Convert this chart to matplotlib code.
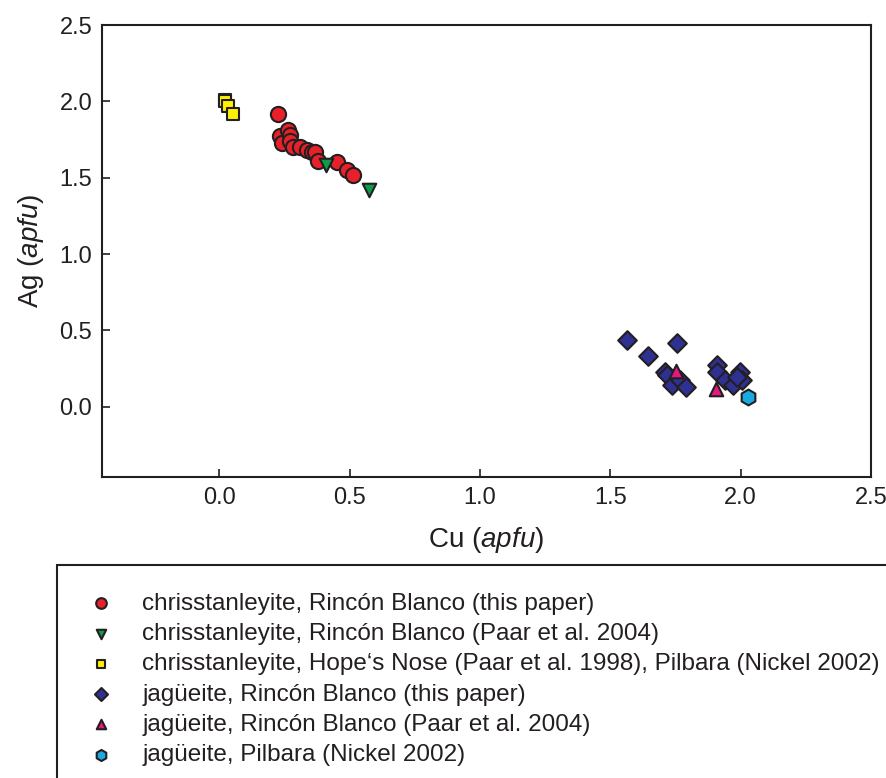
import matplotlib
matplotlib.use("Agg")
import matplotlib.pyplot as plt
from matplotlib.patches import Rectangle

plt.rcParams['font.family'] = ['Liberation Sans', 'DejaVu Sans']
plt.rcParams['mathtext.fontset'] = 'custom'
plt.rcParams['mathtext.rm'] = 'Liberation Sans'
plt.rcParams['mathtext.it'] = 'Liberation Sans:italic'

# Data
chr_rb_cu = [0.226, 0.233, 0.239, 0.265, 0.271, 0.271, 0.284, 0.31, 0.335, 0.355, 0.367, 0.38, 0.45, 0.489, 0.514]
chr_rb_ag = [1.92, 1.77, 1.73, 1.81, 1.78, 1.74, 1.70, 1.70, 1.68, 1.67, 1.67, 1.61, 1.60, 1.55, 1.52]

chr_paar_cu = [0.41, 0.576]
chr_paar_ag = [1.585, 1.42]

chr_hope_cu = [0.02, 0.022, 0.032, 0.052]
chr_hope_ag = [2.01, 2.00, 1.97, 1.92]

jag_rb_cu = [1.563, 1.646, 1.755, 1.71, 1.717, 1.736, 1.768, 1.791, 1.909, 1.909, 1.94, 1.972, 1.998, 2.005, 1.985]
jag_rb_ag = [0.435, 0.335, 0.415, 0.23, 0.208, 0.142, 0.175, 0.131, 0.273, 0.23, 0.175, 0.142, 0.23, 0.175, 0.197]

jag_paar_cu = [1.753, 1.906]
jag_paar_ag = [0.235, 0.118]

jag_pil_cu = [2.028]
jag_pil_ag = [0.062]

labels = [
    'chrisstanleyite, Rincón Blanco (this paper)',
    'chrisstanleyite, Rincón Blanco (Paar et al. 2004)',
    'chrisstanleyite, Hope‘s Nose (Paar et al. 1998), Pilbara (Nickel 2002)',
    'jagüeite, Rincón Blanco (this paper)',
    'jagüeite, Rincón Blanco (Paar et al. 2004)',
    'jagüeite, Pilbara (Nickel 2002)',
]

W, H = 886, 778
fig = plt.figure(figsize=(W/100, H/100), dpi=100)
ax = fig.add_axes([102/W, 1-477/H, (871-102)/W, (477-25)/H])

ew = 1.5
ec = '#231F20'
h1 = ax.scatter(chr_hope_cu, chr_hope_ag, marker='s', s=85, c='#FFF200', edgecolors=ec, linewidths=ew, zorder=3)
h2 = ax.scatter(chr_rb_cu, chr_rb_ag, marker='o', s=120, c='#E8202A', edgecolors=ec, linewidths=ew, zorder=3)
h3 = ax.scatter(chr_paar_cu, chr_paar_ag, marker='v', s=95, c='#0B9C4A', edgecolors=ec, linewidths=ew, zorder=4)
h4 = ax.scatter(jag_rb_cu, jag_rb_ag, marker='D', s=90, c='#2E3192', edgecolors=ec, linewidths=ew, zorder=3)
h5 = ax.scatter(jag_paar_cu, jag_paar_ag, marker='^', s=95, c='#E6177E', edgecolors=ec, linewidths=ew, zorder=4)
h6 = ax.scatter(jag_pil_cu, jag_pil_ag, marker='h', s=130, c='#1BA9E1', edgecolors=ec, linewidths=ew, zorder=4)

ax.set_xlim(-0.45, 2.5)
ax.set_ylim(-0.46, 2.5)
ax.set_xticks([0.0, 0.5, 1.0, 1.5, 2.0, 2.5])
ax.set_yticks([0.0, 0.5, 1.0, 1.5, 2.0, 2.5])
ax.xaxis.set_major_formatter(matplotlib.ticker.FormatStrFormatter('%.1f'))
ax.yaxis.set_major_formatter(matplotlib.ticker.FormatStrFormatter('%.1f'))
ax.tick_params(direction='in', length=6, width=1.2, labelsize=17, colors=ec, pad=7)
for sp in ax.spines.values():
    sp.set_linewidth(1.5)
    sp.set_color(ec)
ax.set_xlabel(r'Cu ($\mathit{apfu}$)', fontsize=20, labelpad=12, color=ec)
ax.set_ylabel(r'Ag ($\mathit{apfu}$)', fontsize=20, labelpad=10, color=ec)

# legend box (cut by figure edge)
fig.patches.append(Rectangle((57/W, -0.05), 1.0, (1-565/H)+0.05, transform=fig.transFigure,
                             fill=False, edgecolor=ec, linewidth=1.5))

handles = [h2, h3, h1, h4, h5, h6]
leg = fig.legend(handles, labels, loc='upper left', bbox_to_anchor=(72/W, 1-583/H),
                 frameon=False, fontsize=17.5, handletextpad=0.9, labelspacing=0.34,
                 markerscale=0.7, borderaxespad=0, handlelength=1.6)
for t in leg.get_texts():
    t.set_color(ec)

fig.savefig('out.png', dpi=100)
